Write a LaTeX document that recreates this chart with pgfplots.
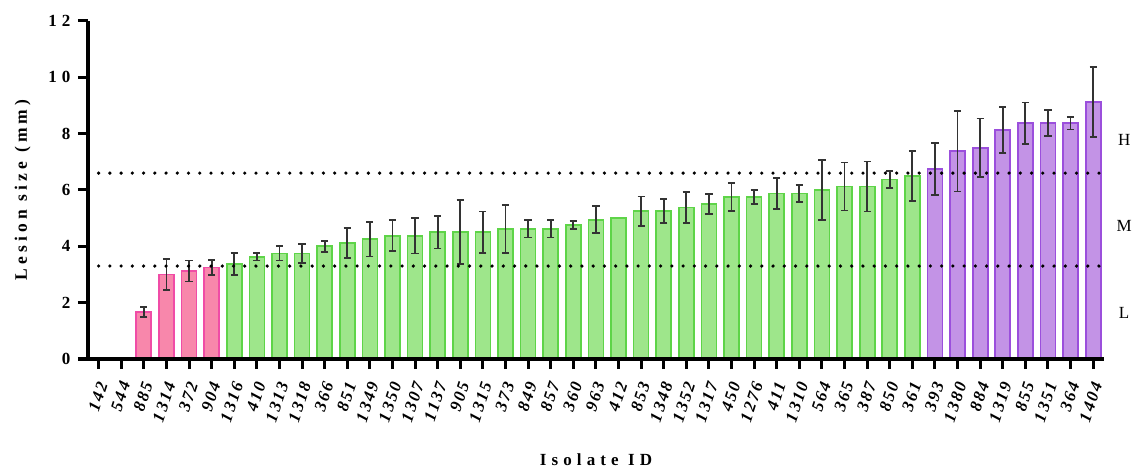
\documentclass[border=0pt]{standalone}
\usepackage{fontspec}
\setmainfont{Liberation Serif}
\newfontfamily\lsTick[LetterSpace=14]{Liberation Serif}
\newfontfamily\lsNum[LetterSpace=30]{Liberation Serif}
\newfontfamily\lsLabel[LetterSpace=24]{Liberation Serif}
\newfontfamily\lsTitle[LetterSpace=30]{Liberation Serif}
\usepackage{pgfplots}
\usepackage{pgfplotstable}
\pgfplotsset{compat=1.18}

\definecolor{pinkfill}{HTML}{F887AB}
\definecolor{pinkedge}{HTML}{F04CA6}
\definecolor{greenfill}{HTML}{9EE68B}
\definecolor{greenedge}{HTML}{5ED448}
\definecolor{purplefill}{HTML}{C393E6}
\definecolor{purpleedge}{HTML}{9B4FDC}
\definecolor{errgray}{HTML}{333333}

% low virulence isolates (L)
\pgfplotstableread{
x y e
2 1.67 0.17
3 3.000 0.54
4 3.125 0.37
5 3.250 0.27
}\lowdata

% medium virulence isolates (M)
\pgfplotstableread{
x y e
6 3.375 0.38
7 3.625 0.13
8 3.750 0.25
9 3.750 0.33
10 4.000 0.19
11 4.125 0.53
12 4.250 0.61
13 4.375 0.55
14 4.375 0.63
15 4.500 0.58
16 4.500 1.14
17 4.500 0.74
18 4.625 0.85
19 4.625 0.31
20 4.625 0.31
21 4.750 0.14
22 4.940 0.48
24 5.250 0.52
25 5.250 0.42
26 5.375 0.55
27 5.500 0.35
28 5.750 0.50
29 5.750 0.25
30 5.875 0.55
31 5.875 0.31
32 6.000 1.06
33 6.125 0.85
34 6.125 0.89
35 6.375 0.31
36 6.500 0.89
}\meddata

% medium isolate without replicate spread
\pgfplotstableread{
x y
23 5.000
}\medsingle

% high virulence isolates (H)
\pgfplotstableread{
x y e
37 6.750 0.93
38 7.375 1.43
39 7.500 1.04
40 8.125 0.81
41 8.375 0.73
42 8.375 0.47
43 8.375 0.23
44 9.125 1.23
}\highdata

\pgfplotsset{
  lesionbar/.style={ybar, bar width=15bp, bar shift=0pt, line width=1.7bp},
  lesionerr/.style={error bars/.cd, y dir=both, y explicit,
    error bar style={line width=1.8bp, color=errgray},
    error mark options={rotate=90, mark size=3.6bp, line width=1.8bp, color=errgray}},
}

\begin{document}
\begin{tikzpicture}
\path[use as bounding box] (0,0) rectangle (1134bp,468bp);
\begin{axis}[
  at={(88bp,109bp)}, anchor=south west,
  scale only axis, width=1016bp, height=338bp,
  xmin=-0.47, xmax=44.48, ymin=0, ymax=12,
  clip=false, axis on top,
  axis x line*=bottom, axis y line*=left,
  axis line style={line width=3bp, black, -},
  tick align=outside, major tick length=10bp,
  tick style={line width=3bp, black},
  xtick={0,...,44},
  xticklabels={142,544,885,1314,372,904,1316,410,1313,1318,366,851,1349,1350,1307,1137,905,1315,373,849,857,360,963,412,853,1348,1352,1317,450,1276,411,1310,564,365,387,850,361,393,1380,884,1319,855,1351,364,1404},
  xticklabel style={xshift=4bp, yshift=-13bp, rotate=72, anchor=east, inner sep=0bp,
    font=\lsTick\bfseries\itshape\fontsize{17bp}{17bp}\selectfont},
  ytick={0,2,4,6,8,10,12},
  yticklabels={0,2,4,6,8,10,12},
  yticklabel style={xshift=-4bp,
    font=\lsNum\bfseries\fontsize{17bp}{17bp}\selectfont},
  xlabel={Isolate ID},
  xlabel style={at={(axis description cs:0.5,0)}, anchor=base, yshift=-106bp,
    font=\lsTitle\bfseries\fontsize{17bp}{17bp}\selectfont},
  ylabel={Lesion size (mm)},
  ylabel style={at={([xshift=-61bp]axis description cs:0,0.5)}, anchor=base,
    font=\lsLabel\bfseries\fontsize{17.5bp}{17.5bp}\selectfont},
]
\addplot[lesionbar, fill=pinkfill, draw=pinkedge, lesionerr]
  table[x=x, y=y, y error=e] {\lowdata};
\addplot[lesionbar, fill=greenfill, draw=greenedge, lesionerr]
  table[x=x, y=y, y error=e] {\meddata};
\addplot[lesionbar, fill=greenfill, draw=greenedge]
  table[x=x, y=y] {\medsingle};
\addplot[lesionbar, fill=purplefill, draw=purpleedge, lesionerr]
  table[x=x, y=y, y error=e] {\highdata};

% class thresholds
\addplot[black, line width=3.6bp, line cap=round, dash pattern=on 0bp off 11.24bp]
  coordinates {(0,6.6) (44.75,6.6)};
\addplot[black, line width=3.6bp, line cap=round, dash pattern=on 0bp off 11.24bp]
  coordinates {(0,3.3) (44.75,3.3)};

\node[font=\fontsize{17bp}{17bp}\selectfont] at (axis cs:45.37,7.77) {H};
\node[font=\fontsize{17bp}{17bp}\selectfont] at (axis cs:45.37,4.72) {M};
\node[font=\fontsize{17bp}{17bp}\selectfont] at (axis cs:45.37,1.63) {L};
\end{axis}
\end{tikzpicture}
\end{document}
